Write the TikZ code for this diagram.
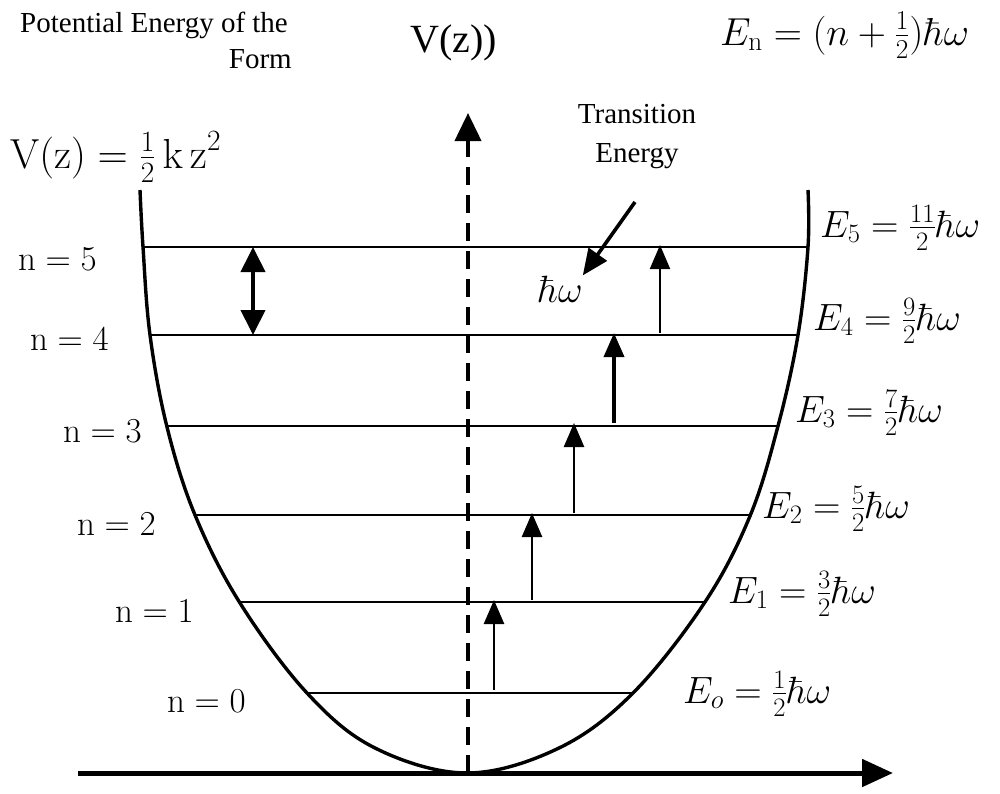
\RequirePackage{fix-cm}
\documentclass[tikz,border=0pt]{standalone}
\usepackage[no-math]{fontspec}
\setmainfont{Liberation Serif}
\usetikzlibrary{arrows.meta}
\newcommand{\sizept}[1]{\fontsize{#1}{#1}\selectfont}
\begin{document}
\begin{tikzpicture}[x=1pt,y=-1pt,
  every node/.style={inner sep=0pt, anchor=base west},
  level/.style={line width=2.6pt},
  jump/.style={line width=2.6pt,-{Triangle[length=24pt,width=20pt]}},
  txt/.style={font=\sizept{29}},
  eqn/.style={font=\sizept{38}},
  nlab/.style={font=\sizept{35}}]
\useasboundingbox (0,0) rectangle (1000,793);

\node[txt] (title1) at (20,32) {Potential Energy of the};
\node[txt, anchor=base east] (title2) at (292,68) {Form};
\node[font=\sizept{40}] (vlabel) at (410,52) {V(z))};
\node[eqn, font=\sizept{39}] (energy) at (720,45) {$E_{\mathrm{n}}=(n+\frac12)\hbar\omega$};
\node[eqn, font=\sizept{42}] (potential) at (10,168) {$\mathrm{V(z)}=\frac12\,\mathrm{k\,z}^2$};
\node[txt, anchor=base] (trans1) at (637,123) {Transition};
\node[txt, anchor=base] (trans2) at (637,162) {Energy};
\node[eqn] (quantum) at (538,302) {$\hbar\omega$};

\coordinate (origin) at (78,773);
\coordinate (xend) at (893,773);
\coordinate (zero) at (468,773);
\coordinate (ztop) at (468,113);
\draw[line width=5pt, -{Triangle[length=31pt,width=27pt]}] (origin) -- (xend);
\draw[line width=4pt, dash pattern=on 18pt off 10pt,
  -{Triangle[length=28pt,width=26pt]}] (zero) -- (ztop);

\draw[line width=3.4pt, line join=round] plot[smooth, tension=0.6] coordinates {
  (140,190) (143,247) (150,335) (167,427) (195,515) (240,603)
  (307,693) (375,748) (467,773)
  (559,748) (633,693) (705,602) (750,516)
  (778,426) (798,335) (808,247) (808,190)};

\coordinate (l5) at (143,247); \coordinate (r5) at (808,247);
\coordinate (l4) at (150,335); \coordinate (r4) at (798,335);
\coordinate (l3) at (167,426); \coordinate (r3) at (778,426);
\coordinate (l2) at (195,515); \coordinate (r2) at (750,515);
\coordinate (l1) at (240,602); \coordinate (r1) at (705,602);
\coordinate (l0) at (307,693); \coordinate (r0) at (633,693);
\draw[level] (l5) -- (r5);
\draw[level] (l4) -- (r4);
\draw[level] (l3) -- (r3);
\draw[level] (l2) -- (r2);
\draw[level] (l1) -- (r1);
\draw[level] (l0) -- (r0);

\node[nlab] (n5) at (18,270) {$\mathrm{n}=5$};
\node[nlab] (n4) at (30,350) {$\mathrm{n}=4$};
\node[nlab] (n3) at (63,442) {$\mathrm{n}=3$};
\node[nlab] (n2) at (77,535) {$\mathrm{n}=2$};
\node[nlab] (n1) at (115,622) {$\mathrm{n}=1$};
\node[nlab] (n0) at (167,712) {$\mathrm{n}=0$};

\node[eqn] (e5) at (820,237) {$E_5=\frac{11}{2}\hbar\omega$};
\node[eqn] (e4) at (813,330) {$E_4=\frac{9}{2}\hbar\omega$};
\node[eqn] (e3) at (795,422) {$E_3=\frac{7}{2}\hbar\omega$};
\node[eqn] (e2) at (762,518) {$E_2=\frac{5}{2}\hbar\omega$};
\node[eqn] (e1) at (728,603) {$E_1=\frac{3}{2}\hbar\omega$};
\node[eqn] (e0) at (683,703) {$E_o=\frac{1}{2}\hbar\omega$};

\coordinate (a0) at (494,690); \coordinate (b0) at (494,600);
\coordinate (a1) at (532,600); \coordinate (b1) at (532,513);
\coordinate (a2) at (574,513); \coordinate (b2) at (574,423);
\coordinate (a3) at (614,423); \coordinate (b3) at (614,333);
\coordinate (a4) at (660,333); \coordinate (b4) at (660,245);
\draw[jump] (a0) -- (b0);
\draw[jump] (a1) -- (b1);
\draw[jump] (a2) -- (b2);
\draw[jump, line width=3.6pt] (a3) -- (b3);
\draw[jump, line width=2pt] (a4) -- (b4);

\coordinate (gapT) at (253,247); \coordinate (gapB) at (253,335);
\draw[line width=4pt, {Triangle[length=25pt,width=24pt]}-{Triangle[length=25pt,width=24pt]}] (gapT) -- (gapB);

\coordinate (ptr) at (635,202);
\draw[line width=3.6pt, -{Triangle[length=26pt,width=22pt]}] (ptr) -- (quantum.north east);
\end{tikzpicture}
\end{document}
